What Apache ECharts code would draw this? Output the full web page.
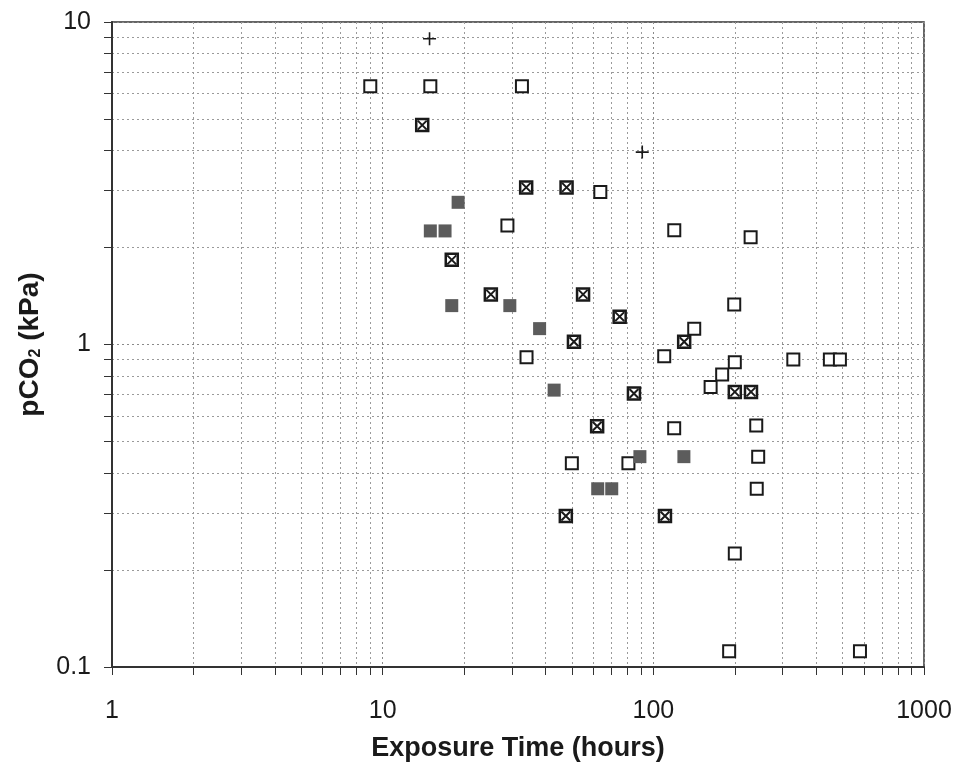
<!DOCTYPE html>
<html><head><meta charset="utf-8">
<script src="https://cdn.jsdelivr.net/npm/echarts@6/dist/echarts.min.js"></script>
<style>html,body{margin:0;padding:0;background:#fff}#c{width:961px;height:767px}</style>
</head><body><div id="c"></div>
<script>
// Exposure time (hours), pCO2 (kPa)
const openSquares = [
  [9.0,6.32],[15.0,6.32],[32.7,6.32],[28.9,2.34],[63.7,2.97],[119.5,2.26],[228.8,2.15],
  [199,1.33],[141.6,1.12],[34.0,0.913],[109.7,0.92],[200,0.881],[179.6,0.807],[162.8,0.738],
  [329,0.898],[449,0.898],[489,0.898],[50,0.428],[80.9,0.428],[119.4,0.55],[240,0.561],
  [244,0.449],[241,0.357],[200,0.225],[190.6,0.112],[580,0.112]
];
const crossedSquares = [
  [14.0,4.79],[33.9,3.07],[47.8,3.07],[18.0,1.83],[25.1,1.43],[55.0,1.43],[75.1,1.22],
  [50.9,1.02],[130,1.02],[84.8,0.705],[200,0.713],[229.5,0.713],[62,0.558],[47.5,0.294],[110.4,0.294]
];
const filledSquares = [
  [19.0,2.76],[15.0,2.25],[17.0,2.25],[18.0,1.32],[29.5,1.32],[38.0,1.12],[43.0,0.722],
  [89.2,0.449],[129.7,0.449],[62.3,0.357],[70.2,0.357]
];
const plusPoints = [[14.9,8.87],[91,3.95]];
const xTickLabels = [1,10,100,1000];
const yTickLabels = [0.1,1,10];

const chart = echarts.init(document.getElementById('c'), null, {renderer:'canvas'});
const FONT = 'Liberation Sans, Arial, sans-serif';
const ink = '#1a1a1a';
function axisCommon(){
  return {
    type:'log', logBase:10,
    axisLine:{show:true, onZero:false, lineStyle:{color:'#333', width:2}},
    axisTick:{show:true, inside:false, length:8, lineStyle:{color:'#333', width:1}},
    minorTick:{show:true, splitNumber:9, length:8, lineStyle:{color:'#333', width:1}},
    splitLine:{show:true, lineStyle:{type:[2,3], color:'#8a8a8a', width:1}},
    minorSplitLine:{show:true, lineStyle:{type:[2,3], color:'#9a9a9a', width:1}}
  };
}
const option = {
  animation:false,
  backgroundColor:'#fff',
  grid:{left:112, top:22, right:37, bottom:100, show:true, borderColor:'#333', borderWidth:1.5, backgroundColor:'#fff'},
  xAxis: Object.assign(axisCommon(), {
    min:xTickLabels[0], max:xTickLabels[xTickLabels.length-1],
    name:'Exposure Time (hours)', nameLocation:'middle', nameGap:68,
    nameTextStyle:{fontFamily:FONT, fontSize:27, fontWeight:'bold', color:ink},
    axisLabel:{margin:32, fontFamily:FONT, fontSize:25, color:ink,
      formatter:v=>xTickLabels.includes(v)?String(v):''}
  }),
  yAxis: Object.assign(axisCommon(), {
    min:yTickLabels[0], max:yTickLabels[yTickLabels.length-1],
    name:'pCO{s|2} (kPa)', nameLocation:'middle', nameGap:68,
    nameTextStyle:{fontFamily:FONT, fontSize:28, fontWeight:'bold', color:ink,
      rich:{s:{fontFamily:FONT, fontSize:16, fontWeight:'bold', color:ink, verticalAlign:'bottom', padding:[12,0,0,0]}}},
    axisLabel:{margin:21, fontFamily:FONT, fontSize:25, color:ink,
      formatter:v=>yTickLabels.includes(v)?String(v):''}
  }),
  series:[
    {type:'scatter', name:'open', data:openSquares, symbol:'rect', symbolSize:12,
      itemStyle:{color:'#fff', borderColor:ink, borderWidth:2, opacity:1}, z:3},
    {type:'scatter', name:'crossed', data:crossedSquares, symbol:'rect', symbolSize:12,
      itemStyle:{color:'#fff', borderColor:ink, borderWidth:2.5, opacity:1}, z:3},
    {type:'scatter', name:'crossedX', data:crossedSquares, symbol:'path://M0,0L10,10M10,0L0,10', symbolSize:9,
      itemStyle:{color:'rgba(0,0,0,0)', borderColor:ink, borderWidth:2, opacity:1}, z:4},
    {type:'scatter', name:'filled', data:filledSquares, symbol:'rect', symbolSize:13,
      itemStyle:{color:'#5c5c5c', borderWidth:0, opacity:1}, z:3},
    {type:'scatter', name:'plus', data:plusPoints, symbol:'path://M5,0L5,10M0,5L10,5', symbolSize:13,
      itemStyle:{color:'rgba(0,0,0,0)', borderColor:ink, borderWidth:1.6, opacity:1}, z:3}
  ]
};
chart.setOption(option);
</script>
</body></html>
